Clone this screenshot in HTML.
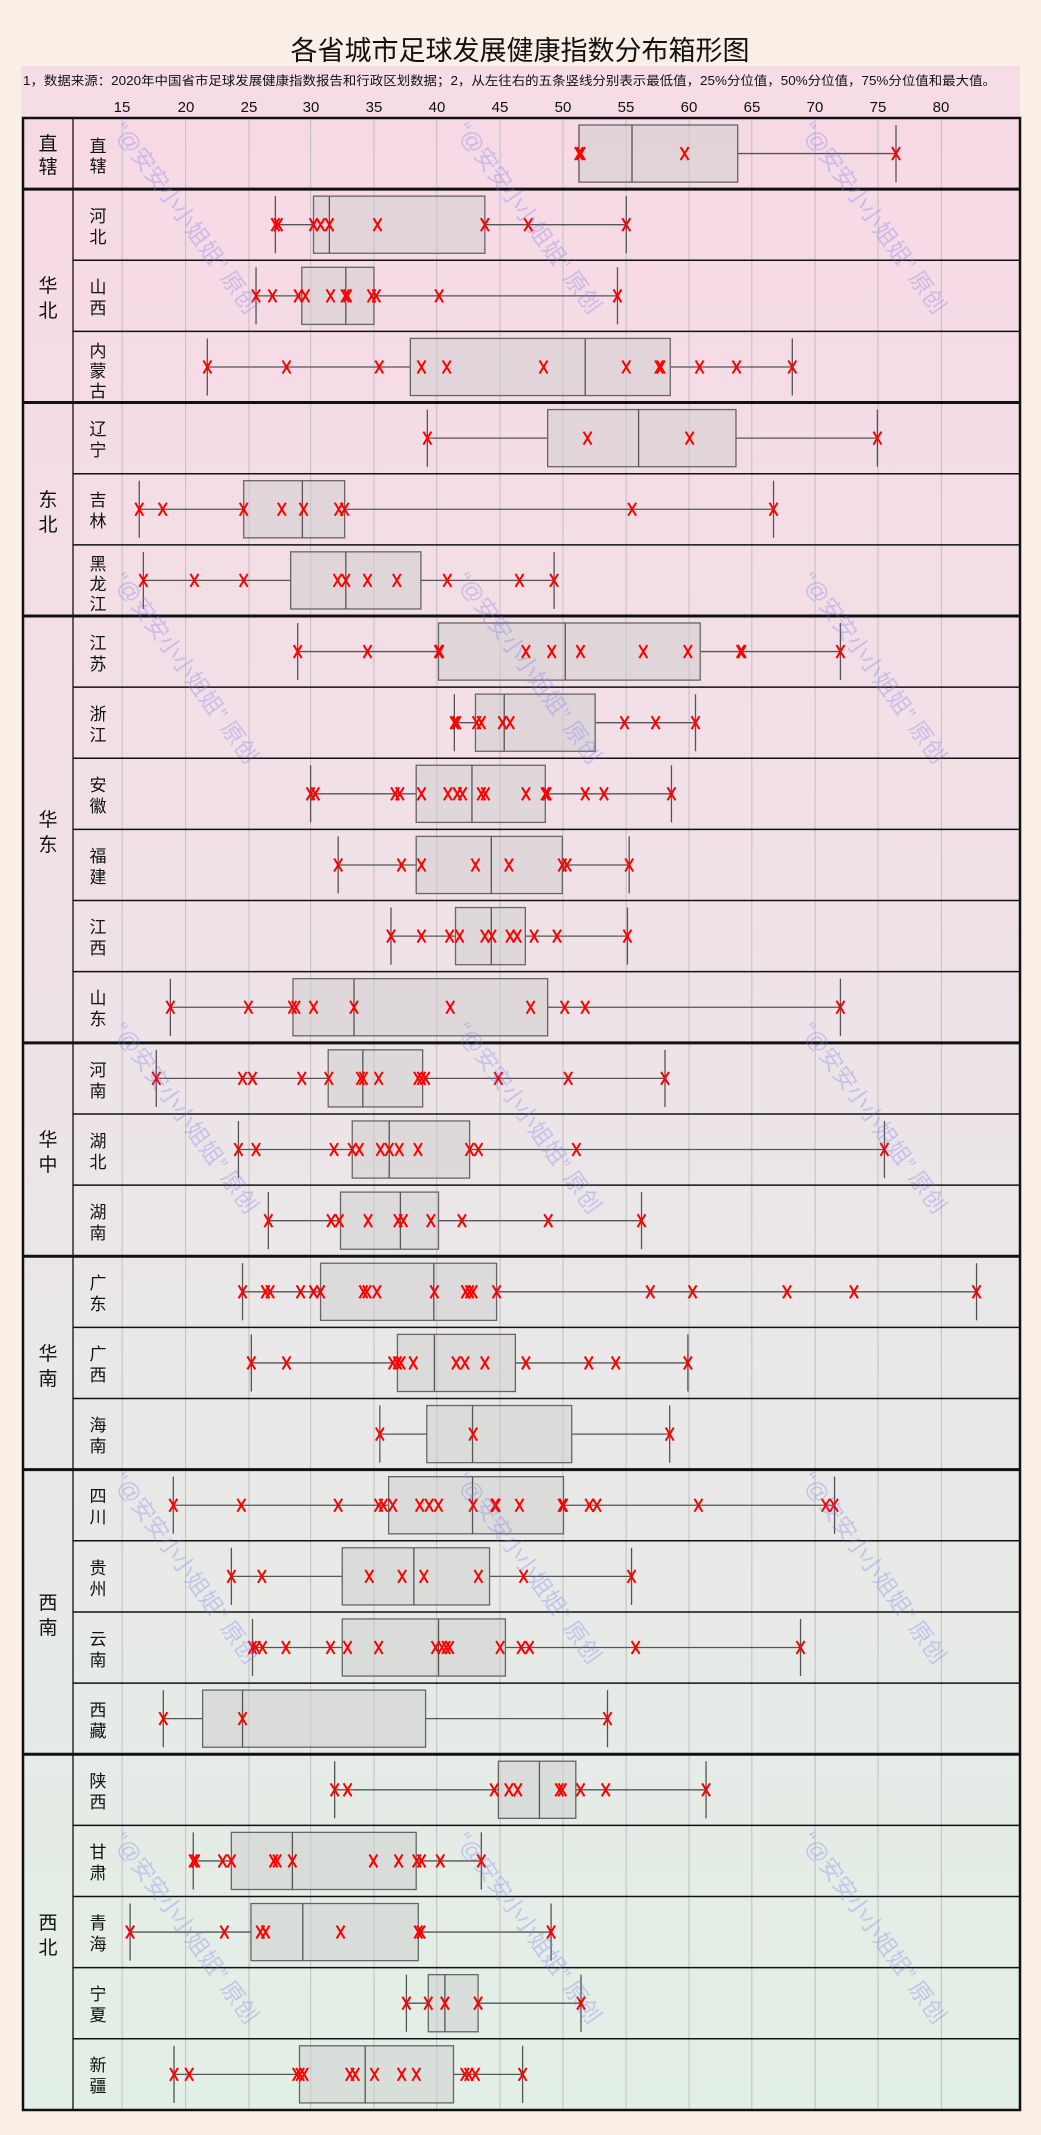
<!DOCTYPE html>
<html><head><meta charset="utf-8">
<style>
html,body{margin:0;padding:0;background:#faefe6;}
svg{display:block;}
text{font-family:"Liberation Sans","Noto Sans CJK SC",sans-serif;}
</style></head>
<body>
<svg id="s" width="1041" height="2135" viewBox="0 0 1041 2135" xmlns="http://www.w3.org/2000/svg">
<defs>
<linearGradient id="bg" x1="0" y1="0" x2="0" y2="1">
<stop offset="0" stop-color="#f7d9e5"/>
<stop offset="0.35" stop-color="#f1e0e7"/>
<stop offset="0.55" stop-color="#ebe6e8"/>
<stop offset="1" stop-color="#e2efe6"/>
</linearGradient>
</defs>
<rect x="0" y="0" width="1041" height="2135" fill="#faefe6"/>
<text x="520" y="60" font-size="27" text-anchor="middle" fill="#111">各省城市足球发展健康指数分布箱形图</text>
<rect x="21" y="66" width="999" height="52" fill="#f6dce7"/>
<text x="23" y="85" font-size="12.5" fill="#111" textLength="973" lengthAdjust="spacingAndGlyphs">1，数据来源：2020年中国省市足球发展健康指数报告和行政区划数据；2，从左往右的五条竖线分别表示最低值，25%分位值，50%分位值，75%分位值和最大值。</text>
<g font-size="15" fill="#111" text-anchor="middle">
<text x="122" y="112">15</text><text x="186" y="112">20</text><text x="249" y="112">25</text><text x="311" y="112">30</text><text x="374" y="112">35</text><text x="437" y="112">40</text><text x="500" y="112">45</text><text x="563" y="112">50</text><text x="626" y="112">55</text><text x="689" y="112">60</text><text x="752" y="112">65</text><text x="815" y="112">70</text><text x="878" y="112">75</text><text x="941" y="112">80</text>
</g>
<rect x="23" y="118" width="997" height="1992" fill="url(#bg)"/>
<g id="grid"></g>
<g id="wm" font-size="23" fill="rgba(120,120,235,0.33)"></g>
<g id="plot"></g>
<g id="lines"></g>
<g font-size="19" fill="#111" text-anchor="middle">
<text x="48" y="150">直</text><text x="48" y="173">辖</text>
<text x="48" y="292">华</text><text x="48" y="317">北</text>
<text x="48" y="506">东</text><text x="48" y="531">北</text>
<text x="48" y="826">华</text><text x="48" y="851">东</text>
<text x="48" y="1146">华</text><text x="48" y="1171">中</text>
<text x="48" y="1360">华</text><text x="48" y="1385">南</text>
<text x="48" y="1609">西</text><text x="48" y="1634">南</text>
<text x="48" y="1929">西</text><text x="48" y="1954">北</text>
</g>
<g font-size="17" fill="#111" text-anchor="middle">
<text x="98" y="152">直</text><text x="98" y="172">辖</text>
<text x="98" y="222">河</text><text x="98" y="243">北</text>
<text x="98" y="293">山</text><text x="98" y="314">西</text>
<text x="98" y="357">内</text><text x="98" y="377">蒙</text><text x="98" y="397">古</text>
<text x="98" y="435">辽</text><text x="98" y="456">宁</text>
<text x="98" y="506">吉</text><text x="98" y="527">林</text>
<text x="98" y="570">黑</text><text x="98" y="590">龙</text><text x="98" y="610">江</text>
<text x="98" y="649">江</text><text x="98" y="670">苏</text>
<text x="98" y="720">浙</text><text x="98" y="741">江</text>
<text x="98" y="791">安</text><text x="98" y="812">徽</text>
<text x="98" y="862">福</text><text x="98" y="883">建</text>
<text x="98" y="933">江</text><text x="98" y="954">西</text>
<text x="98" y="1004">山</text><text x="98" y="1025">东</text>
<text x="98" y="1076">河</text><text x="98" y="1097">南</text>
<text x="98" y="1147">湖</text><text x="98" y="1168">北</text>
<text x="98" y="1218">湖</text><text x="98" y="1239">南</text>
<text x="98" y="1289">广</text><text x="98" y="1310">东</text>
<text x="98" y="1360">广</text><text x="98" y="1381">西</text>
<text x="98" y="1431">海</text><text x="98" y="1452">南</text>
<text x="98" y="1502">四</text><text x="98" y="1523">川</text>
<text x="98" y="1574">贵</text><text x="98" y="1595">州</text>
<text x="98" y="1645">云</text><text x="98" y="1666">南</text>
<text x="98" y="1716">西</text><text x="98" y="1737">藏</text>
<text x="98" y="1787">陕</text><text x="98" y="1808">西</text>
<text x="98" y="1858">甘</text><text x="98" y="1879">肃</text>
<text x="98" y="1929">青</text><text x="98" y="1950">海</text>
<text x="98" y="2000">宁</text><text x="98" y="2021">夏</text>
<text x="98" y="2071">新</text><text x="98" y="2092">疆</text>
</g>
<g fill="rgba(120,120,235,0.33)" font-size="23">
<text transform="translate(112,130) rotate(54)">“@安安小小姐姐”  原创</text>
<text transform="translate(455,130) rotate(54)">“@安安小小姐姐”  原创</text>
<text transform="translate(800,130) rotate(54)">“@安安小小姐姐”  原创</text>
<text transform="translate(112,580) rotate(54)">“@安安小小姐姐”  原创</text>
<text transform="translate(455,580) rotate(54)">“@安安小小姐姐”  原创</text>
<text transform="translate(800,580) rotate(54)">“@安安小小姐姐”  原创</text>
<text transform="translate(112,1030) rotate(54)">“@安安小小姐姐”  原创</text>
<text transform="translate(455,1030) rotate(54)">“@安安小小姐姐”  原创</text>
<text transform="translate(800,1030) rotate(54)">“@安安小小姐姐”  原创</text>
<text transform="translate(112,1480) rotate(54)">“@安安小小姐姐”  原创</text>
<text transform="translate(455,1480) rotate(54)">“@安安小小姐姐”  原创</text>
<text transform="translate(800,1480) rotate(54)">“@安安小小姐姐”  原创</text>
<text transform="translate(112,1840) rotate(54)">“@安安小小姐姐”  原创</text>
<text transform="translate(455,1840) rotate(54)">“@安安小小姐姐”  原创</text>
<text transform="translate(800,1840) rotate(54)">“@安安小小姐姐”  原创</text>
</g>
</svg>
<script>
(function(){
var NS="http://www.w3.org/2000/svg";
function el(p,t,a){var e=document.createElementNS(NS,t);for(var k in a)e.setAttribute(k,a[k]);p.appendChild(e);return e;}
var grid=document.getElementById("grid"),plot=document.getElementById("plot"),lines=document.getElementById("lines");
var ticks=[122.2,185.6,249.0,310.6,374.0,436.7,500.1,562.9,626.2,689.1,751.8,815.2,878.0,941.4];
ticks.forEach(function(x){el(grid,"line",{x1:x,x2:x,y1:118,y2:2110,stroke:"#c8c4c8","stroke-width":1.2});});
var Z=function(z){return 80+z/1.7043;};
var R=function(r){return r;};
var rows=[
[R,[579,579,632,737.7,896],[579,581,684.6,896]],
[Z,[333,398,425,690,931],[333,338,398,410,425,507,690,764,931]],
[Z,[300,378,453,501,916],[300,328,372,384,427,452,456,497,505,612,916]],
[Z,[217,563,861,1006,1214],[217,352,510,582,625,790,931,987,990,1056,1119,1214]],
[Z,[592,797,952,1118,1359],[592,865,1039,1359]],
[Z,[101,279,379,451,1182],[101,141,279,344,381,441,451,941,1182]],
[Z,[108,359,453,581,808],[108,195,279,439,453,490,540,626,749,808]],
[Z,[371,611,827,1057,1296],[371,490,611,613,760,804,853,960,1036,1126,1128,1296]],
[Z,[638,674,723,878,1049],[638,642,676,684,720,733,928,981,1049]],
[Z,[393,573,668,793,1008],[393,401,537,545,582,627,643,652,684,691,760,793,796,861,893,1008]],
[Z,[440,573,701,822,936],[440,548,582,674,731,822,830,936]],
[Z,[530,640,701,759,933],[530,582,630,647,690,702,733,745,774,813,933]],
[Z,[154,363,467,797,1296],[154,287,362,368,398,467,631,768,826,861,1296]],
[Z,[130,423,482,584,997],[130,277,294,378,424,478,483,509,576,582,589,713,832,997]],
[Z,[270,464,527,664,1371],[270,300,433,464,476,512,527,544,576,664,679,846,1371]],
[Z,[321,444,546,611,957],[321,428,442,491,542,551,598,651,798,957]],
[Z,[277,410,603,710,1528],[277,316,324,376,398,410,483,489,506,604,657,664,670,710,972,1044,1205,1319,1528]],
[Z,[292,541,604,742,1036],[292,352,533,541,547,568,641,656,690,760,867,913,1036]],
[Z,[511,591,669,838,1005],[511,670,1005]],
[Z,[159,526,669,824,1286],[159,275,440,509,517,533,579,595,611,670,707,709,749,822,824,868,881,1054,1271,1285]],
[Z,[258,447,569,698,940],[258,310,493,549,586,679,756,940]],
[Z,[294,447,611,725,1228],[294,300,311,351,427,456,509,606,617,624,630,716,752,766,947,1228]],
[Z,[142,209,277,589,899],[142,277,899]],
[Z,[434,713,783,845,1067],[434,456,706,731,746,817,822,853,896,1067]],
[Z,[193,258,362,573,684],[193,197,243,258,330,336,362,500,543,574,582,614,684]],
[R,[130.1,251.0,302.8,418.3,551.1],[130.1,224.4,260.3,265.6,340.6,418.3,421.0,551.1]],
[R,[406.4,428.3,444.9,478.1,581.0],[406.4,428.3,444.9,478.1,581.0]],
[R,[174,299.5,365.2,453.5,522.6],[174,189.2,296.8,300.1,304.1,349.9,355.2,374.5,401.7,416.3,464.8,468.8,475.4,522.6]]
];
var H=71.14;
rows.forEach(function(r,i){
 var f=r[0],s=r[1].map(f),top=118+i*H,cy=top+H/2,bt=top+7,bb=top+H-7;
 var st={stroke:"#555","stroke-width":1.3};
 el(plot,"line",Object.assign({x1:s[0],x2:s[1],y1:cy,y2:cy},st));
 el(plot,"line",Object.assign({x1:s[3],x2:s[4],y1:cy,y2:cy},st));
 el(plot,"line",Object.assign({x1:s[0],x2:s[0],y1:bt,y2:bb},st));
 el(plot,"line",Object.assign({x1:s[4],x2:s[4],y1:bt,y2:bb},st));
 el(plot,"rect",{x:s[1],y:bt,width:s[3]-s[1],height:bb-bt,fill:"rgba(205,205,205,0.5)",stroke:"#666","stroke-width":1.3});
 el(plot,"line",Object.assign({x1:s[2],x2:s[2],y1:bt,y2:bb},st));
 r[2].forEach(function(z){var x=f(z);
  el(plot,"path",{d:"M"+(x-4)+" "+(cy-6.5)+"L"+(x+4)+" "+(cy+6.5)+"M"+(x+4)+" "+(cy-6.5)+"L"+(x-4)+" "+(cy+6.5),stroke:"#f00","stroke-width":2,fill:"none"});
 });
});
var groupEnds=[1,4,7,13,16,19,23];
for(var i=1;i<28;i++){
 var y=118+i*H;
 if(groupEnds.indexOf(i)>=0) el(lines,"line",{x1:23,x2:1020,y1:y,y2:y,stroke:"#111","stroke-width":3});
 else el(lines,"line",{x1:73,x2:1020,y1:y,y2:y,stroke:"#111","stroke-width":1.5});
}
el(lines,"line",{x1:73,x2:73,y1:118,y2:2110,stroke:"#111","stroke-width":1.3});
el(lines,"rect",{x:23,y:118,width:997,height:1992,fill:"none",stroke:"#111","stroke-width":2.5});
})();
</script>
</body></html>
